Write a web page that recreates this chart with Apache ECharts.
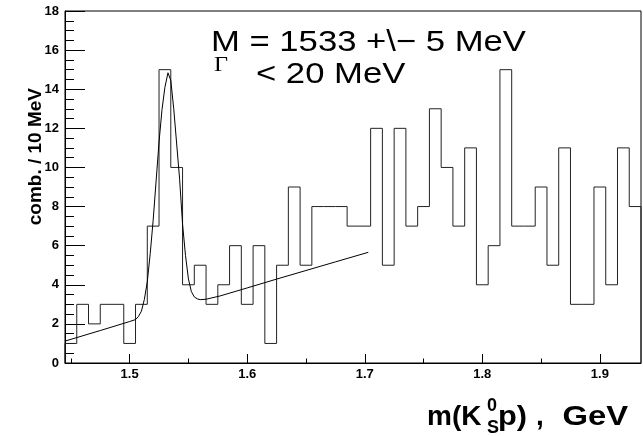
<!DOCTYPE html>
<html>
<head>
<meta charset="utf-8">
<script src="https://cdn.jsdelivr.net/npm/echarts@6/dist/echarts.min.js"></script>
<style>
  html, body { margin: 0; padding: 0; background: #fff; }
  #chart { width: 643px; height: 436px; }
</style>
</head>
<body>
<div id="chart"></div>
<script>
// Histogram: K0s p invariant mass, 10 MeV bins starting at 1.445 GeV
const binLow = 1.445;
const binWidth = 0.01;
const counts = [
  1, 3, 2, 3, 3, 1, 3, 7, 15, 10,
  4, 5, 3, 4, 6, 3, 6, 1, 5, 9,
  5, 8, 8, 8, 7, 7, 12, 5, 12, 7,
  8, 13, 10, 7, 11, 4, 6, 15, 7, 7,
  9, 5, 11, 3, 3, 9, 4, 11, 8
];

// Fitted curve (Gaussian peak over linear background), sampled points
const fitX = [1.445, 1.475, 1.500, 1.505, 1.5075, 1.510, 1.5125, 1.515, 1.5175, 1.520,
              1.5225, 1.525, 1.5275, 1.530, 1.5326, 1.535, 1.5375, 1.540, 1.5425, 1.545,
              1.5475, 1.550, 1.5525, 1.555, 1.5575, 1.560, 1.565, 1.577, 1.600, 1.625,
              1.650, 1.675, 1.703];
const fitY = [1.12, 1.66, 2.12, 2.22, 2.38, 2.65, 3.25, 4.15, 5.6, 7.3,
              9.3, 11.3, 12.95, 14.1, 14.84, 14.45, 13.0, 11.2, 9.4, 7.1,
              5.5, 4.3, 3.65, 3.38, 3.28, 3.24, 3.26, 3.43, 3.84, 4.29,
              4.73, 5.17, 5.66];

const xMajorTicks = [1.5, 1.6, 1.7, 1.8, 1.9];
const xMinorTicks = [1.45, 1.55, 1.65, 1.75, 1.85];
const xMin = 1.445, xMax = 1.935;
const yMin = 0, yMax = 18, yStep = 2;

// step outline of the histogram
const histPts = [[binLow, 0]];
counts.forEach((c, i) => histPts.push([+(binLow + i * binWidth).toFixed(3), c]));
histPts.push([+(binLow + counts.length * binWidth).toFixed(3), counts[counts.length - 1]]);
histPts.push([+(binLow + counts.length * binWidth).toFixed(3), 0]);

const fitPts = fitX.map((x, i) => [x, fitY[i]]);

const bold = 'bold';
const sans = 'Liberation Sans, Arial, Helvetica, sans-serif';
const wide = 1.155; // horizontal stretch of the annotation lettering

const chart = echarts.init(document.getElementById('chart'), null, { renderer: 'canvas' });
chart.setOption({
  animation: false,
  backgroundColor: '#fff',
  grid: {
    left: 65, right: 2, top: 11, bottom: 73,
    show: true, borderColor: '#000', borderWidth: 1, backgroundColor: 'transparent'
  },
  xAxis: [
    {
      type: 'value', min: xMin, max: xMax,
      axisLine: { show: true, lineStyle: { color: '#000', width: 1 } },
      axisTick: { show: true, inside: true, length: 9, customValues: xMajorTicks, lineStyle: { color: '#000' } },
      axisLabel: {
        show: true, customValues: xMajorTicks, margin: 5,
        fontFamily: sans, fontWeight: bold, fontSize: 13, color: '#000',
        formatter: v => v.toFixed(1)
      },
      splitLine: { show: false }
    },
    {
      type: 'value', min: xMin, max: xMax, position: 'bottom', offset: 0,
      axisLine: { show: false },
      axisTick: { show: true, inside: true, length: 4.5, customValues: xMinorTicks, lineStyle: { color: '#000' } },
      axisLabel: { show: false },
      splitLine: { show: false }
    }
  ],
  yAxis: {
    type: 'value', min: yMin, max: yMax, interval: yStep,
    axisLine: { show: true, lineStyle: { color: '#000', width: 1 } },
    axisTick: { show: true, inside: true, length: 20, lineStyle: { color: '#000' } },
    minorTick: { show: true, splitNumber: 4, length: 9, lineStyle: { color: '#000' } },
    axisLabel: {
      margin: 6, fontFamily: sans, fontWeight: bold, fontSize: 13, color: '#000'
    },
    splitLine: { show: false }
  },
  series: [
    {
      type: 'line', data: histPts, step: 'end', xAxisIndex: 0,
      symbol: 'none', lineStyle: { color: '#222', width: 1 }, z: 3
    },
    {
      type: 'line', data: fitPts, xAxisIndex: 0, smooth: false,
      symbol: 'none', lineStyle: { color: '#000', width: 1 }, z: 4
    }
  ],
  graphic: [
    {
      type: 'text', x: 36, y: 88, rotation: Math.PI / 2,
      style: { text: 'comb. / 10 MeV', font: 'bold 19px ' + sans, fill: '#000', align: 'right', verticalAlign: 'middle' }
    },
    {
      type: 'text', x: 211, y: 43, scaleX: wide,
      style: { text: 'M = 1533 +\\\u2212 5 MeV', font: '30px ' + sans, fill: '#000', align: 'left', verticalAlign: 'middle' }
    },
    {
      type: 'text', x: 214, y: 65, scaleX: wide,
      style: { text: '\u0393', font: '21px Liberation Serif, Times New Roman, serif', fill: '#000', align: 'left', verticalAlign: 'middle' }
    },
    {
      type: 'text', x: 256, y: 74.5, scaleX: wide,
      style: { text: '< 20 MeV', font: '30px ' + sans, fill: '#000', align: 'left', verticalAlign: 'middle' }
    },
    {
      type: 'text', x: 427, y: 417,
      style: { text: 'm(K', font: 'bold 28px ' + sans, fill: '#000', align: 'left', verticalAlign: 'middle' }
    },
    {
      type: 'text', x: 487, y: 406.5,
      style: { text: '0', font: 'bold 18px ' + sans, fill: '#000', align: 'left', verticalAlign: 'middle' }
    },
    {
      type: 'text', x: 487, y: 428.5,
      style: { text: 'S', font: 'bold 18px ' + sans, fill: '#000', align: 'left', verticalAlign: 'middle' }
    },
    {
      type: 'text', x: 498, y: 417, scaleX: 1.1,
      style: { text: 'p)', font: 'bold 28px ' + sans, fill: '#000', align: 'left', verticalAlign: 'middle' }
    },
    {
      type: 'text', x: 536, y: 417,
      style: { text: ',', font: 'bold 28px ' + sans, fill: '#000', align: 'left', verticalAlign: 'middle' }
    },
    {
      type: 'text', x: 628, y: 417, scaleX: 1.17,
      style: { text: 'GeV', font: 'bold 28px ' + sans, fill: '#000', align: 'right', verticalAlign: 'middle' }
    }
  ]
});
</script>
</body>
</html>
